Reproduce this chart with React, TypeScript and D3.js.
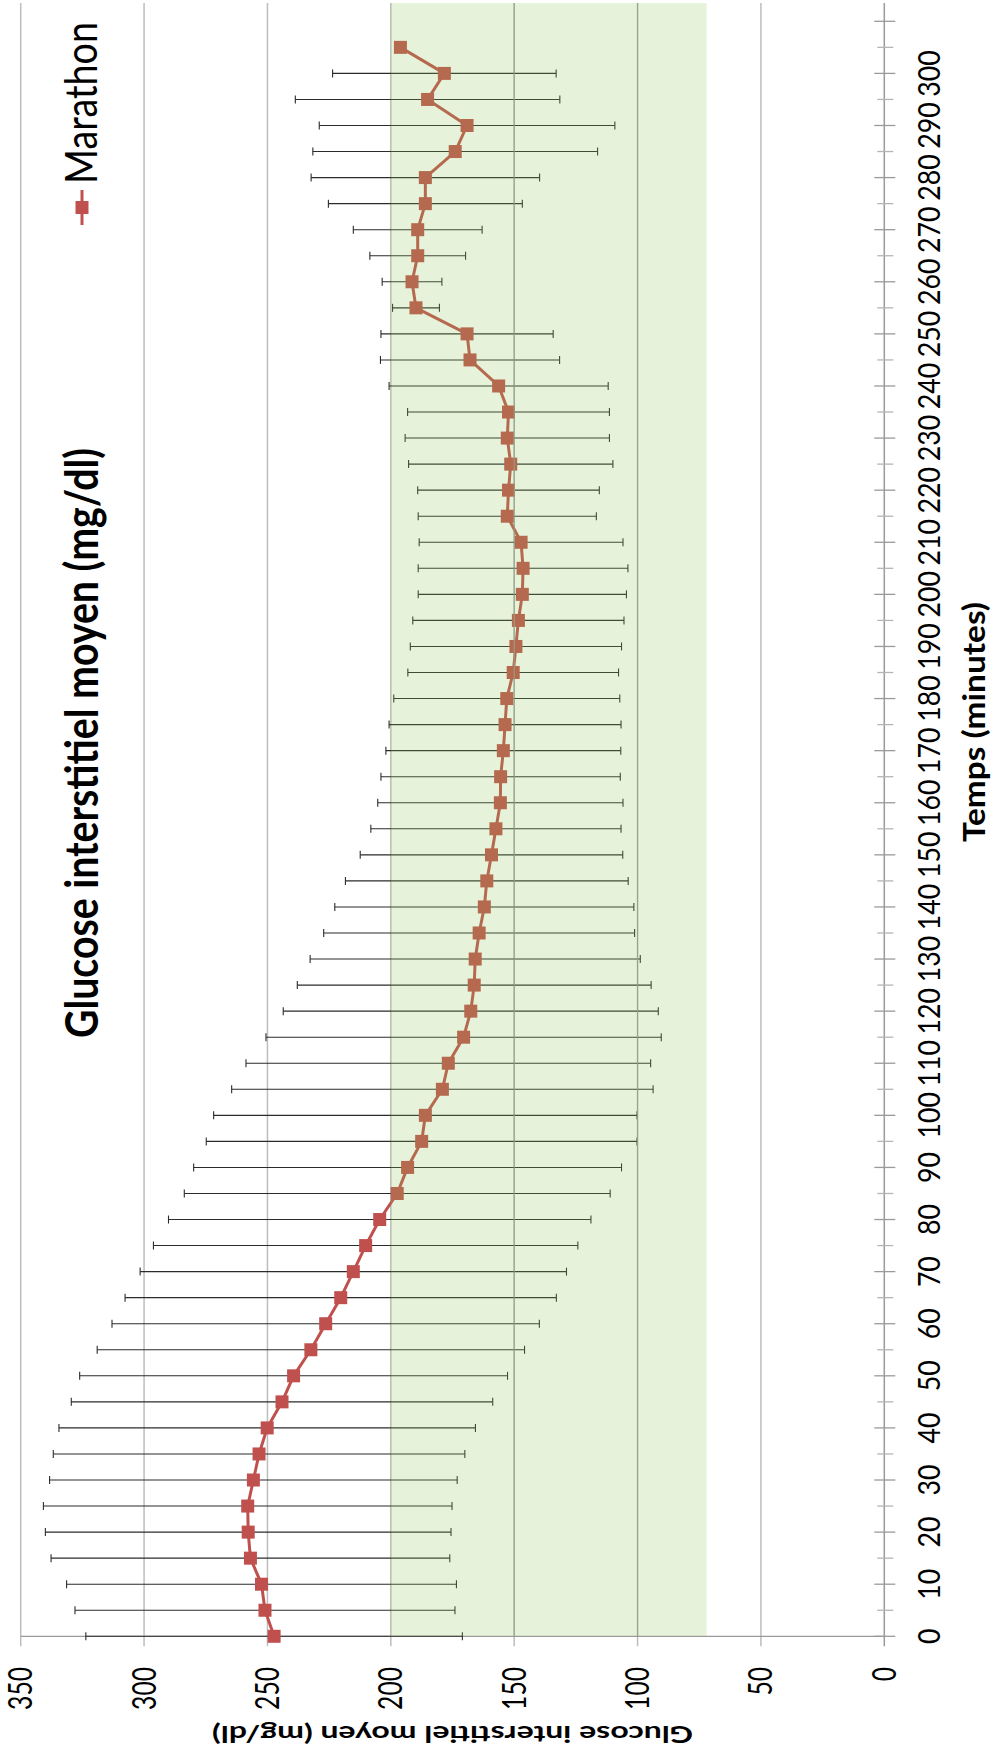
import React from "react";
import * as d3 from "d3";

const times = [0,5,10,15,20,25,30,35,40,45,50,55,60,65,70,75,80,85,90,95,100,105,110,115,120,125,130,135,140,145,150,155,160,165,170,175,180,185,190,195,200,205,210,215,220,225,230,235,240,245,250,255,260,265,270,275,280,285,290,295,300,305];
const means = [247.3,251.0,252.4,256.9,257.8,258.0,255.7,253.4,250.1,244.1,239.4,232.4,226.4,220.3,215.2,210.2,204.5,197.4,193.2,187.5,186.0,179.1,176.7,170.5,167.6,166.2,165.8,164.2,162.1,161.1,159.2,157.4,155.6,155.5,154.4,153.7,153.0,150.4,149.3,148.3,146.7,146.4,147.2,152.8,152.3,151.4,152.8,152.3,156.3,167.9,169.1,189.8,191.4,189.1,189.1,186.0,186.0,173.9,169.1,185.1,178.3,196.1];
const sds: (number | null)[] = [76.3,77.0,79.0,80.8,82.2,82.8,82.6,83.4,84.4,85.4,86.7,86.6,86.6,87.4,86.4,86.0,85.6,86.3,86.7,87.3,85.8,85.4,82.0,80.1,76.0,71.7,66.9,63.0,60.6,57.3,53.2,50.7,49.7,48.5,47.6,47.0,45.8,42.7,42.8,42.8,42.2,42.5,41.3,36.1,36.8,41.4,41.4,40.9,44.4,36.3,34.9,9.5,12.1,19.4,26.1,39.3,46.3,57.7,59.9,53.6,45.3,null];

const valueTicks = [0,50,100,150,200,250,300,350];
const timeLabels = [0,10,20,30,40,50,60,70,80,90,100,110,120,130,140,150,160,170,180,190,200,210,220,230,240,250,260,270,280,290,300];
const timeMinor = [5,15,25,35,45,55,65,75,85,95,105,115,125,135,145,155,165,175,185,195,205,215,225,235,245,255,265,275,285,295,305];
const targetLow = 72;
const targetHigh = 200;
const seriesName = "Marathon";
const chartTitle = "Glucose interstitiel moyen (mg/dl)";
const valueTitle = "Glucose interstitiel moyen (mg/dl)";
const timeTitle = "Temps (minutes)";

const RED = "#c0504d";
const FONT = "Lato, 'Open Sans', 'Liberation Sans', sans-serif";

export default function App() {
  const v = d3.scaleLinear().domain([0, 350]).range([884.3, 20.7]);
  const t = d3.scaleLinear().domain([0, 310]).range([1636.3, 21.3]);
  const plotTop = 3;
  const axisY = t(0);
  const data = times.map((tm, i) => ({ t: tm, m: means[i], sd: sds[i] }));
  const line = d3.line<{ t: number; m: number }>().x(d => v(d.m)).y(d => t(d.t));
  const ms = 13;

  return (
    <svg width={993} height={1746} style={{ position: "absolute", left: 0, top: 0, background: "#fff" }} fontFamily={FONT}>
      <rect x={0} y={0} width={993} height={1746} fill="#fff" />
      {/* value gridlines + ticks */}
      {valueTicks.map(val => (
        <line key={"g" + val} x1={v(val)} x2={v(val)} y1={plotTop} y2={axisY + 10} stroke={val === 0 ? "#9a9a9a" : "#bdbdbd"} strokeWidth={1.5} />
      ))}
      {/* time axis line */}
      <line x1={v(350)} x2={v(0)} y1={axisY} y2={axisY} stroke="#9a9a9a" strokeWidth={1.3} />
      {timeLabels.concat([310]).map(tm => (
        <line key={"tm" + tm} x1={v(0) - 10} x2={v(0) + 11} y1={t(tm)} y2={t(tm)} stroke="#9a9a9a" strokeWidth={1.3} />
      ))}
      {timeMinor.map(tm => (
        <line key={"tn" + tm} x1={v(0) - 7} x2={v(0) + 9} y1={t(tm)} y2={t(tm)} stroke="#b5b5b5" strokeWidth={1.3} />
      ))}
      {/* error bars */}
      {data.filter(d => d.sd != null).map(d => {
        const y = t(d.t);
        const hi = v(d.m + (d.sd as number));
        const lo = v(d.m - (d.sd as number));
        return (
          <g key={"e" + d.t} stroke="#2b2b2b" strokeWidth={1.1}>
            <line x1={hi} x2={lo} y1={y} y2={y} />
            <line x1={hi} x2={hi} y1={y - 4} y2={y + 4} />
            <line x1={lo} x2={lo} y1={y - 4} y2={y + 4} />
          </g>
        );
      })}
      {/* series line */}
      <path d={line(data) || ""} fill="none" stroke={RED} strokeWidth={3} strokeLinejoin="round" />
      {data.map(d => (
        <rect key={"m" + d.t} x={v(d.m) - ms / 2} y={t(d.t) - ms / 2} width={ms} height={ms} fill={RED} />
      ))}
      {/* target zone overlay */}
      <rect x={v(targetHigh)} y={plotTop} width={v(targetLow) - v(targetHigh)} height={axisY - plotTop} fill="rgb(141,200,86)" fillOpacity={0.22} />
      {[150, 100].map(val => (
        <line key={"gz" + val} x1={v(val)} x2={v(val)} y1={plotTop} y2={axisY} stroke="#95a38a" strokeWidth={1} />
      ))}
      {/* value tick labels */}
      {valueTicks.map(val => (
        <text key={"vl" + val} transform={`translate(${v(val) + 11.5},${1667}) rotate(-90)`} textAnchor="end" fontSize={32} fill="#000"
          textLength={String(val).length * 14.3} lengthAdjust="spacingAndGlyphs">{val}</text>
      ))}
      {/* time tick labels */}
      {timeLabels.map(tm => (
        <text key={"tl" + tm} transform={`translate(${940},${t(tm)}) rotate(-90)`} textAnchor="middle" fontSize={30.5} fill="#000"
          textLength={String(tm).length * 15.5} lengthAdjust="spacingAndGlyphs">{tm}</text>
      ))}
      {/* chart title */}
      <text transform={`translate(${98},${743}) rotate(-90)`} textAnchor="middle" fontSize={45} fontWeight="bold" fill="#000"
        textLength={590} lengthAdjust="spacingAndGlyphs">{chartTitle}</text>
      {/* value axis title (upside down) */}
      <text transform={`translate(${452.5},${1726}) rotate(180)`} textAnchor="middle" fontSize={22} fontWeight="bold" fill="#000"
        textLength={481} lengthAdjust="spacingAndGlyphs">{valueTitle}</text>
      {/* time axis title */}
      <text transform={`translate(${985},${722}) rotate(-90)`} textAnchor="middle" fontSize={30} fontWeight="bold" fill="#000"
        textLength={240} lengthAdjust="spacingAndGlyphs">{timeTitle}</text>
      {/* legend */}
      <line x1={82} x2={82} y1={190} y2={225} stroke={RED} strokeWidth={3} />
      <rect x={82 - ms / 2} y={207.5 - ms / 2} width={ms} height={ms} fill={RED} />
      <text transform={`translate(${97},${184}) rotate(-90)`} textAnchor="start" fontSize={44} fill="#000"
        textLength={162} lengthAdjust="spacingAndGlyphs">{seriesName}</text>
    </svg>
  );
}
